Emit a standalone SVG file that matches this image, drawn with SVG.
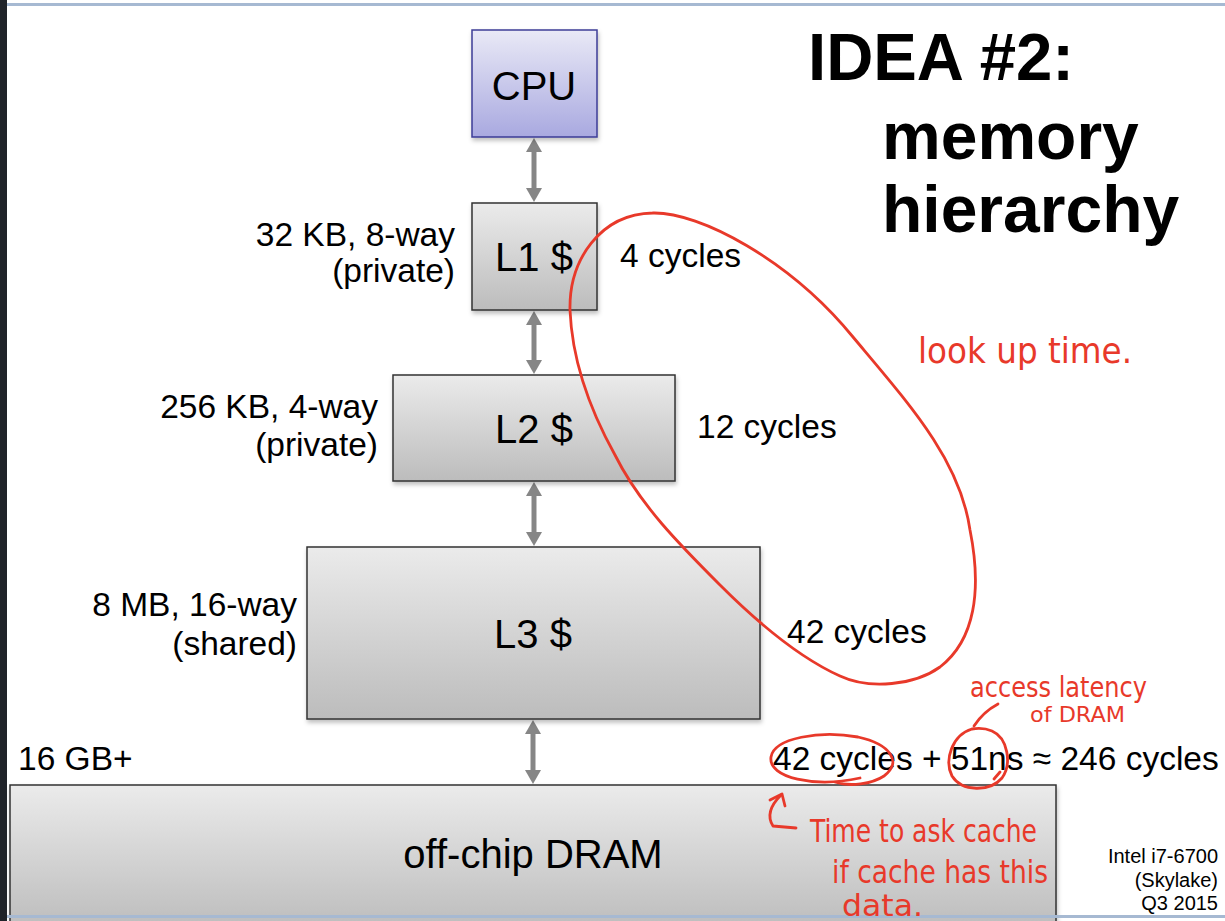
<svg xmlns="http://www.w3.org/2000/svg" width="1225" height="921" viewBox="0 0 1225 921">
  <style>
    .lbl { font-family: "Liberation Sans", Arial, sans-serif; fill: #000; }
    .big { font-size: 40px; text-anchor: middle; }
    .sm { font-size: 33.5px; }
    .box { stroke: #333; stroke-width: 1.5; fill: url(#gray); filter: url(#shadow); }
    .cpu { stroke: #3d3d96; stroke-width: 1.5; fill: url(#blue); filter: url(#shadow); }
    .link { stroke: #868686; stroke-width: 5; fill: none; }
    .head { fill: #868686; }
    .ink { stroke: #e8392a; stroke-width: 2.8; fill: none; stroke-linecap: round; stroke-linejoin: round; }
    .hand { font-family: "DejaVu Sans Condensed", "DejaVu Sans", sans-serif; fill: #e8392a; }
  </style>
  <defs>
    <linearGradient id="gray" x1="0" y1="0" x2="0" y2="1">
      <stop offset="0" stop-color="#ebebeb"/>
      <stop offset="1" stop-color="#bcbcbc"/>
    </linearGradient>
    <linearGradient id="blue" x1="0" y1="0" x2="0" y2="1">
      <stop offset="0" stop-color="#e9e9f6"/>
      <stop offset="1" stop-color="#a9a9e0"/>
    </linearGradient>
    <filter id="shadow" x="-5%" y="-5%" width="115%" height="120%">
      <feDropShadow dx="1" dy="3" stdDeviation="2" flood-color="#000" flood-opacity="0.25"/>
    </filter>
  </defs>

  <!-- page frame -->
  <rect x="0" y="0" width="1225" height="921" fill="#fff"/>
  <rect x="0" y="0" width="7" height="921" fill="#1f2329"/>
  <rect x="7" y="3" width="1218" height="3" fill="#a6b9d2"/>

  <!-- title -->
  <g id="title" font-family="Liberation Sans, Arial, sans-serif" font-weight="bold" font-size="66">
    <text x="808" y="80" textLength="266" lengthAdjust="spacingAndGlyphs">IDEA #2:</text>
    <text x="882" y="159">memory</text>
    <text x="882" y="232">hierarchy</text>
  </g>

  <!-- connectors -->
  <g id="connectors">
    <g id="cpu-l1">
      <line class="link" x1="534" y1="150" x2="534" y2="190"/>
      <polygon class="head" points="534,138 526,152 542,152"/>
      <polygon class="head" points="534,202 526,188 542,188"/>
    </g>
    <g id="l1-l2">
      <line class="link" x1="534" y1="323" x2="534" y2="362"/>
      <polygon class="head" points="534,311 526,325 542,325"/>
      <polygon class="head" points="534,374 526,360 542,360"/>
    </g>
    <g id="l2-l3">
      <line class="link" x1="534" y1="494" x2="534" y2="534"/>
      <polygon class="head" points="534,482 526,496 542,496"/>
      <polygon class="head" points="534,546 526,532 542,532"/>
    </g>
    <g id="l3-dram">
      <line class="link" x1="533" y1="732" x2="533" y2="772"/>
      <polygon class="head" points="533,720 525,734 541,734"/>
      <polygon class="head" points="533,784 525,770 541,770"/>
    </g>
  </g>

  <!-- nodes -->
  <g id="cpu">
    <rect class="cpu" x="472" y="30" width="125" height="107"/>
    <text class="lbl big" x="534" y="100">CPU</text>
  </g>

  <g id="l1">
    <rect class="box" x="472" y="203" width="125" height="107"/>
    <text class="lbl big" x="534" y="271">L1 $</text>
    <text class="lbl sm" x="455" y="246" text-anchor="end">32 KB, 8-way</text>
    <text class="lbl sm" x="455" y="282" text-anchor="end">(private)</text>
    <text class="lbl sm" x="620" y="267">4 cycles</text>
  </g>

  <g id="l2">
    <rect class="box" x="393" y="375" width="282" height="106"/>
    <text class="lbl big" x="534" y="443">L2 $</text>
    <text class="lbl sm" x="378" y="418" text-anchor="end">256 KB, 4-way</text>
    <text class="lbl sm" x="378" y="456" text-anchor="end">(private)</text>
    <text class="lbl sm" x="697" y="438">12 cycles</text>
  </g>

  <g id="l3">
    <rect class="box" x="307" y="547" width="453" height="172"/>
    <text class="lbl big" x="533" y="648">L3 $</text>
    <text class="lbl sm" x="297" y="616" text-anchor="end">8 MB, 16-way</text>
    <text class="lbl sm" x="297" y="655" text-anchor="end">(shared)</text>
    <text class="lbl sm" x="787" y="643">42 cycles</text>
  </g>

  <g id="dram">
    <rect class="box" x="10" y="785" width="1046" height="145"/>
    <text class="lbl big" x="533" y="868">off-chip DRAM</text>
    <text class="lbl sm" x="18" y="770">16 GB+</text>
    <text class="lbl sm" x="773" y="770">42 cycles + 51ns ≈ 246 cycles</text>
  </g>

  <g id="chip-note" font-size="20" text-anchor="end">
    <text class="lbl" x="1218" y="863">Intel i7-6700</text>
    <text class="lbl" x="1218" y="887">(Skylake)</text>
    <text class="lbl" x="1218" y="910">Q3 2015</text>
  </g>

  <!-- bottom frame line over the DRAM box -->
  <rect x="7" y="915" width="1218" height="3" fill="#a6b9d2"/>

  <!-- red pen annotations -->
  <g id="annotations">
    <path class="ink" d="M653 213 C700 212 790 260 853 337 C910 405 960 460 970 530 C982 590 975 640 940 667 C915 685 870 690 840 676 C800 658 760 625 720 585 C680 545 640 505 615 455 C590 410 572 360 570 310 C569 260 600 214 653 213"/>
    <text class="hand" x="918" y="363" font-size="36" textLength="214" lengthAdjust="spacingAndGlyphs">look up time.</text>

    <path class="ink" d="M860 778 C815 788 768 778 771 757 C774 738 820 730 858 737 C890 744 903 762 884 776 C872 784 850 787 835 782"/>
    <path class="ink" d="M972 729 C952 735 944 760 952 776 C962 792 990 792 1002 778 C1012 764 1008 738 992 731 C985 728 978 728 972 729"/>
    <path class="ink" d="M994 779 L 1000 772"/>
    <path class="ink" d="M974 726 Q 983 712 998 704"/>
    <text class="hand" x="970" y="697" font-size="28" textLength="177" lengthAdjust="spacingAndGlyphs">access latency</text>
    <text class="hand" x="1030" y="722" font-size="21" textLength="95" lengthAdjust="spacingAndGlyphs">of DRAM</text>

    <path class="ink" d="M796 828 L 773 826 Q 764 812 781 795"/>
    <path class="ink" d="M770 800 L 782 794 L 785 806"/>
    <text class="hand" x="810" y="842" font-size="32" textLength="227" lengthAdjust="spacingAndGlyphs">Time to ask cache</text>
    <text class="hand" x="832" y="883" font-size="32" textLength="216" lengthAdjust="spacingAndGlyphs">if cache has this</text>
    <text class="hand" x="842" y="916" font-size="30" textLength="81" lengthAdjust="spacingAndGlyphs">data.</text>
  </g>
</svg>
